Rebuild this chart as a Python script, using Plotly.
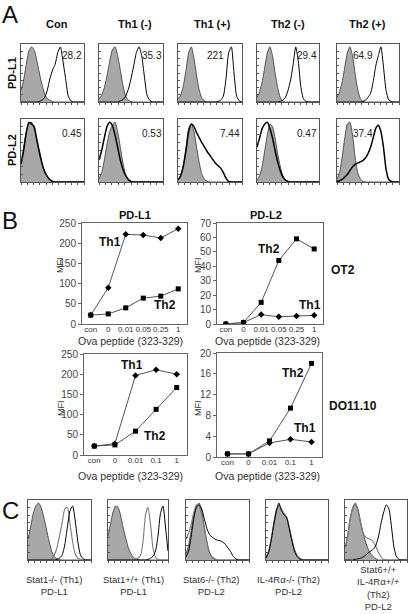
import plotly.graph_objects as go

# ---------------- DATA ----------------
bins = list(range(25))

# Panel A histograms (percent of max height), gray = isotype, open = stain
a_cols = ["Con", "Th1 (-)", "Th1 (+)", "Th2 (-)", "Th2 (+)"]
a_rows = ["PD-L1", "PD-L2"]
a_mfi_pdl1 = ["28.2", "35.3", "221", "29.4", "64.9"]
a_mfi_pdl2 = ["0.45", "0.53", "7.44", "0.47", "37.4"]

gray_pdl1 = [
    [20, 38, 65, 88, 95, 90, 72, 50, 30, 14, 6, 3, 1, 0, 0, 0, 0, 0, 0, 0, 0, 0, 0, 0, 0],
    [5, 12, 25, 45, 70, 90, 95, 80, 55, 28, 10, 3, 1, 0, 0, 0, 0, 0, 0, 0, 0, 0, 0, 0, 0],
    [5, 12, 28, 55, 85, 95, 75, 45, 20, 6, 2, 0, 0, 0, 0, 0, 0, 0, 0, 0, 0, 0, 0, 0, 0],
    [8, 18, 35, 60, 85, 95, 80, 50, 25, 8, 2, 0, 0, 0, 0, 0, 0, 0, 0, 0, 0, 0, 0, 0, 0],
    [8, 18, 35, 60, 85, 95, 80, 50, 22, 6, 1, 0, 0, 0, 0, 0, 0, 0, 0, 0, 0, 0, 0, 0, 0],
]
open_pdl1 = [
    [0, 0, 0, 0, 0, 0, 0, 1, 3, 8, 20, 40, 55, 65, 85, 95, 70, 40, 10, 2, 0, 0, 0, 0, 0],
    [0, 0, 0, 0, 0, 0, 0, 0, 2, 4, 10, 22, 40, 62, 85, 95, 80, 45, 12, 3, 0, 0, 0, 0, 0],
    [0, 0, 0, 0, 0, 0, 0, 0, 0, 0, 0, 0, 0, 0, 0, 1, 3, 10, 40, 85, 95, 50, 10, 2, 0],
    [0, 0, 0, 0, 0, 0, 0, 0, 0, 1, 3, 8, 20, 38, 65, 95, 70, 25, 5, 1, 0, 0, 0, 0, 0],
    [0, 0, 0, 0, 0, 0, 0, 0, 0, 0, 1, 3, 8, 15, 35, 62, 80, 95, 60, 20, 4, 1, 0, 0, 0],
]
gray_pdl2 = [
    [30, 55, 80, 92, 95, 85, 65, 45, 28, 15, 8, 3, 1, 0, 0, 0, 0, 0, 0, 0, 0, 0, 0, 0, 0],
    [5, 15, 35, 60, 80, 90, 95, 80, 55, 30, 12, 4, 1, 0, 0, 0, 0, 0, 0, 0, 0, 0, 0, 0, 0],
    [3, 10, 28, 55, 85, 92, 80, 55, 30, 12, 4, 1, 0, 0, 0, 0, 0, 0, 0, 0, 0, 0, 0, 0, 0],
    [3, 10, 25, 50, 75, 92, 88, 70, 45, 25, 10, 3, 1, 0, 0, 0, 0, 0, 0, 0, 0, 0, 0, 0, 0],
    [5, 15, 40, 70, 92, 95, 75, 40, 15, 5, 1, 0, 0, 0, 0, 0, 0, 0, 0, 0, 0, 0, 0, 0, 0],
]
open_pdl2 = [
    [28, 50, 78, 95, 92, 88, 68, 48, 30, 17, 9, 4, 1, 0, 0, 0, 0, 0, 0, 0, 0, 0, 0, 0, 0],
    [35, 50, 70, 88, 95, 90, 75, 55, 35, 20, 10, 4, 1, 0, 0, 0, 0, 0, 0, 0, 0, 0, 0, 0, 0],
    [3, 10, 25, 50, 80, 92, 88, 78, 70, 62, 55, 48, 42, 36, 30, 26, 22, 15, 6, 1, 0, 0, 0, 0, 0],
    [55, 70, 85, 92, 95, 85, 70, 50, 32, 18, 8, 3, 1, 0, 0, 0, 0, 0, 0, 0, 0, 0, 0, 0, 0],
    [1, 2, 4, 8, 12, 18, 24, 28, 30, 32, 34, 38, 45, 55, 70, 85, 90, 80, 55, 20, 4, 1, 0, 0, 0],
]

# Panel B line charts
ot2_cats = ["con", "0", "0.01", "0.05", "0.25", "1"]
ot2_pdl1_th1 = [22, 90, 222, 220, 213, 236]
ot2_pdl1_th2 = [22, 25, 40, 64, 69, 87]
ot2_pdl2_th2 = [0, 1, 15, 44, 59, 52]
ot2_pdl2_th1 = [0, 1, 6.5, 5, 5.5, 6]

do_cats = ["con", "0", "0.01", "0.1", "1"]
do_pdl1_th1 = [22, 28, 197, 211, 200]
do_pdl1_th2 = [22, 25, 59, 113, 167]
do_pdl2_th2 = [0.6, 0.6, 3.1, 9.4, 18]
do_pdl2_th1 = [0.6, 0.6, 2.7, 3.4, 2.9]

pdl1_yticks = [0, 50, 100, 150, 200, 250]
ot2_pdl2_yticks = [0, 10, 20, 30, 40, 50, 60, 70]
do_pdl2_yticks = [0, 4, 8, 12, 16, 20]

# Panel C histograms
c_labels = [
    "Stat1-/- (Th1)<br>PD-L1",
    "Stat1+/+ (Th1)<br>PD-L1",
    "Stat6-/- (Th2)<br>PD-L2",
    "IL-4R\u03b1-/- (Th2)<br>PD-L2",
    "Stat6+/+<br>IL-4R\u03b1+/+<br>(Th2)<br>PD-L2",
]
gray_c = [
    [35, 55, 78, 90, 95, 88, 72, 52, 32, 15, 6, 2, 1, 0, 0, 0, 0, 0, 0, 0, 0, 0, 0, 0, 0],
    [40, 60, 80, 90, 88, 75, 55, 38, 22, 12, 5, 2, 1, 0, 0, 0, 0, 0, 0, 0, 0, 0, 0, 0, 0],
    [10, 25, 50, 75, 90, 95, 80, 55, 30, 12, 4, 1, 0, 0, 0, 0, 0, 0, 0, 0, 0, 0, 0, 0, 0],
    [5, 15, 35, 60, 80, 92, 85, 78, 72, 55, 35, 18, 8, 3, 1, 0, 0, 0, 0, 0, 0, 0, 0, 0, 0],
    [20, 40, 70, 88, 95, 85, 65, 45, 30, 18, 10, 5, 2, 0, 0, 0, 0, 0, 0, 0, 0, 0, 0, 0, 0],
]
thin_c = [
    [0, 0, 0, 0, 0, 0, 0, 0, 0, 2, 8, 20, 40, 62, 85, 88, 60, 30, 10, 3, 1, 0, 0, 0, 0],
    [0, 0, 0, 0, 0, 0, 0, 0, 0, 0, 0, 1, 3, 8, 30, 75, 88, 60, 20, 5, 1, 0, 0, 0, 0],
    [35, 45, 60, 80, 92, 90, 75, 52, 28, 12, 5, 2, 0, 0, 0, 0, 0, 0, 0, 0, 0, 0, 0, 0, 0],
    [5, 14, 34, 62, 84, 90, 84, 76, 70, 54, 34, 17, 7, 2, 0, 0, 0, 0, 0, 0, 0, 0, 0, 0, 0],
    [20, 40, 68, 85, 92, 82, 62, 45, 38, 36, 34, 30, 22, 12, 5, 1, 0, 0, 0, 0, 0, 0, 0, 0, 0],
]
black_c = [
    [0, 0, 0, 0, 0, 0, 0, 0, 0, 0, 0, 1, 3, 8, 25, 55, 82, 90, 65, 30, 8, 2, 0, 0, 0],
    [0, 0, 0, 0, 0, 0, 0, 0, 0, 0, 0, 0, 0, 0, 0, 0, 1, 3, 6, 15, 40, 78, 90, 55, 15],
    [5, 15, 40, 70, 88, 92, 85, 68, 52, 42, 38, 35, 33, 32, 30, 26, 20, 14, 6, 2, 0, 0, 0, 0, 0],
    [3, 12, 32, 58, 82, 95, 82, 75, 70, 52, 32, 15, 6, 2, 0, 0, 0, 0, 0, 0, 0, 0, 0, 0, 0],
    [0, 0, 0, 0, 1, 2, 3, 5, 8, 12, 15, 18, 25, 40, 62, 80, 92, 85, 55, 20, 5, 1, 0, 0, 0],
]

# ---------------- LAYOUT HELPERS ----------------
W, H = 410, 614
FONT = "Liberation Sans, Arial, sans-serif"


def fx(x):
    return x / W


def fy(y):
    return 1 - y / H


fig = go.Figure()
layout = {}
annotations = []
axis_n = [0]


def new_axes(x0, x1, y0, y1):
    axis_n[0] += 1
    k = axis_n[0]
    xa = "xaxis" if k == 1 else f"xaxis{k}"
    ya = "yaxis" if k == 1 else f"yaxis{k}"
    xr = "x" if k == 1 else f"x{k}"
    yr = "y" if k == 1 else f"y{k}"
    layout[xa] = dict(domain=[fx(x0), fx(x1)], anchor=yr)
    layout[ya] = dict(domain=[fy(y1), fy(y0)], anchor=xr)
    return xa, ya, xr, yr


def hist_box(x0, x1, y0, y1, curves):
    xa, ya, xr, yr = new_axes(x0, x1, y0, y1)
    for kind, vals in curves:
        if kind == "fill":
            fig.add_trace(go.Scatter(x=bins, y=vals, mode="lines", fill="tozeroy",
                                     fillcolor="#a8a8a8",
                                     line=dict(color="#333", width=0.8, shape="spline", smoothing=0.6),
                                     xaxis=xr, yaxis=yr, hoverinfo="skip"))
        elif kind == "thin":
            fig.add_trace(go.Scatter(x=bins, y=vals, mode="lines",
                                     line=dict(color="#7a7a7a", width=1.1, shape="spline", smoothing=0.6),
                                     xaxis=xr, yaxis=yr, hoverinfo="skip"))
        elif kind == "bold":
            fig.add_trace(go.Scatter(x=bins, y=vals, mode="lines",
                                     line=dict(color="#000", width=1.5, shape="spline", smoothing=0.6),
                                     xaxis=xr, yaxis=yr, hoverinfo="skip"))
        else:
            fig.add_trace(go.Scatter(x=bins, y=vals, mode="lines",
                                     line=dict(color="#000", width=1, shape="spline", smoothing=0.6),
                                     xaxis=xr, yaxis=yr, hoverinfo="skip"))
    layout[xa].update(range=[0, 24], showgrid=False, zeroline=False, showline=True, mirror=True,
                      linecolor="#555", linewidth=1, ticks="outside", ticklen=2, tickcolor="#555",
                      tickvals=[i * 2.4 for i in range(11)], showticklabels=False)
    layout[ya].update(range=[0, 100], showgrid=False, zeroline=False, showline=True, mirror=True,
                      linecolor="#555", linewidth=1, ticks="inside", ticklen=2, tickcolor="#555",
                      tickvals=[i * 12.5 for i in range(9)], showticklabels=False)


def line_box(x0, x1, y0, y1, cats, th1, th2, yrange, yticks):
    xa, ya, xr, yr = new_axes(x0, x1, y0, y1)
    fig.add_trace(go.Scatter(x=cats, y=th1, mode="lines+markers",
                             line=dict(color="#555", width=1),
                             marker=dict(symbol="diamond", size=5, color="#000"),
                             xaxis=xr, yaxis=yr))
    fig.add_trace(go.Scatter(x=cats, y=th2, mode="lines+markers",
                             line=dict(color="#555", width=1),
                             marker=dict(symbol="square", size=5, color="#000"),
                             xaxis=xr, yaxis=yr))
    layout[xa].update(type="category", range=[-0.5, len(cats) - 0.5], showgrid=False, zeroline=False,
                      showline=True, mirror=True, linecolor="#666", linewidth=1,
                      ticks="outside", ticklen=0, ticklabelstandoff=-3,
                      tickangle=0, automargin=False,
                      tickfont=dict(size=8, color="#333", family=FONT))
    layout[ya].update(range=yrange, tickvals=yticks, showgrid=False, zeroline=False,
                      showline=True, mirror=True, linecolor="#666", linewidth=1, ticks="outside",
                      ticklen=3, tickcolor="#666", automargin=False,
                      tickfont=dict(size=10, color="#444", family=FONT))


def text(x, y, s, size=10, bold=False, angle=0, color="#222", xanchor="center"):
    if bold:
        s = f"<b>{s}</b>"
    annotations.append(dict(x=fx(x), y=fy(y), xref="paper", yref="paper", text=s, showarrow=False,
                            font=dict(size=size, color=color, family=FONT), textangle=angle,
                            xanchor=xanchor, yanchor="middle"))


# ---------------- PANEL A ----------------
a_x = [(21, 84), (99, 163), (178, 242), (257, 319), (337, 399)]
a_y = [(44, 102), (119, 182)]
a_num_x = [72, 152, 215, 307, 363]
for i in range(5):
    hist_box(a_x[i][0], a_x[i][1], a_y[0][0], a_y[0][1],
             [("fill", gray_pdl1[i]), ("open", open_pdl1[i])])
    text(a_num_x[i], 55, a_mfi_pdl1[i], size=10)
for i in range(5):
    hist_box(a_x[i][0], a_x[i][1], a_y[1][0], a_y[1][1],
             [("fill", gray_pdl2[i]), ("bold", open_pdl2[i])])
    text(a_num_x[i] if i != 2 else 230, 133, a_mfi_pdl2[i], size=10)

header_x = [57, 135, 212, 288, 367]
for i, h in enumerate(a_cols):
    text(header_x[i], 24, h, size=11, bold=True, color="#111")
text(12, 73, a_rows[0], size=11, bold=True, angle=-90, color="#111")
text(12, 150, a_rows[1], size=11, bold=True, angle=-90, color="#111")
text(10, 14, "A", size=24, color="#111")

# ---------------- PANEL B ----------------
line_box(82, 187, 223, 324, ot2_cats, ot2_pdl1_th1, ot2_pdl1_th2, [0, 250], pdl1_yticks)
line_box(217, 323, 223, 324, ot2_cats, ot2_pdl2_th1, ot2_pdl2_th2, [0, 70], ot2_pdl2_yticks)
line_box(84, 187, 354, 455, do_cats, do_pdl1_th1, do_pdl1_th2, [0, 250], pdl1_yticks)
line_box(217, 322, 353, 457, do_cats, do_pdl2_th1, do_pdl2_th2, [0, 20], do_pdl2_yticks)

text(10, 221, "B", size=24, color="#111")
text(135, 215, "PD-L1", size=11, bold=True, color="#111")
text(266, 215, "PD-L2", size=11, bold=True, color="#111")
text(60, 265, "MFI", size=9, angle=-90, color="#333")
text(198, 265, "MFI", size=9, angle=-90, color="#333")
text(61, 408, "MFI", size=9, angle=-90, color="#333")
text(198, 408, "MFI", size=9, angle=-90, color="#333")
text(110, 242, "Th1", size=12, bold=True, color="#111")
text(165, 305, "Th2", size=12, bold=True, color="#111")
text(269, 249, "Th2", size=12, bold=True, color="#111")
text(310, 305, "Th1", size=12, bold=True, color="#111")
text(132, 365, "Th1", size=12, bold=True, color="#111")
text(155, 436, "Th2", size=12, bold=True, color="#111")
text(293, 373, "Th2", size=12, bold=True, color="#111")
text(305, 428, "Th1", size=12, bold=True, color="#111")
text(343, 270, "OT2", size=12, bold=True, color="#111")
text(353, 406, "DO11.10", size=12, bold=True, color="#111")
text(130, 341, "Ova peptide (323-329)", size=10.5, color="#333")
text(267, 341, "Ova peptide (323-329)", size=10.5, color="#333")
text(130, 476, "Ova peptide (323-329)", size=10.5, color="#333")
text(267, 476, "Ova peptide (323-329)", size=10.5, color="#333")

# ---------------- PANEL C ----------------
c_x = [(28, 91), (108, 168), (186, 249), (266, 328), (345, 407)]
for i in range(5):
    hist_box(c_x[i][0], c_x[i][1], 500, 560,
             [("fill", gray_c[i]), ("thin", thin_c[i]), ("open", black_c[i])])
text(10, 510, "C", size=24, color="#111")
c_lab_x = [54, 133, 211, 288, 378]
for i in range(4):
    annotations.append(dict(x=fx(c_lab_x[i]), y=fy(572), xref="paper", yref="paper",
                            text=c_labels[i], showarrow=False, align="center",
                            font=dict(size=9.5, color="#333", family=FONT),
                            xanchor="center", yanchor="top"))
annotations.append(dict(x=fx(c_lab_x[4]), y=fy(562), xref="paper", yref="paper",
                        text=c_labels[4], showarrow=False, align="center",
                        font=dict(size=9.5, color="#333", family=FONT),
                        xanchor="center", yanchor="top"))

fig.update_layout(width=W, height=H, margin=dict(l=0, r=0, t=0, b=0),
                  paper_bgcolor="white", plot_bgcolor="white", showlegend=False,
                  annotations=annotations, **layout)
fig.write_html("out.html", config={"displayModeBar": False},
               post_script="document.body.style.margin='0px';document.body.style.overflow='hidden';")
